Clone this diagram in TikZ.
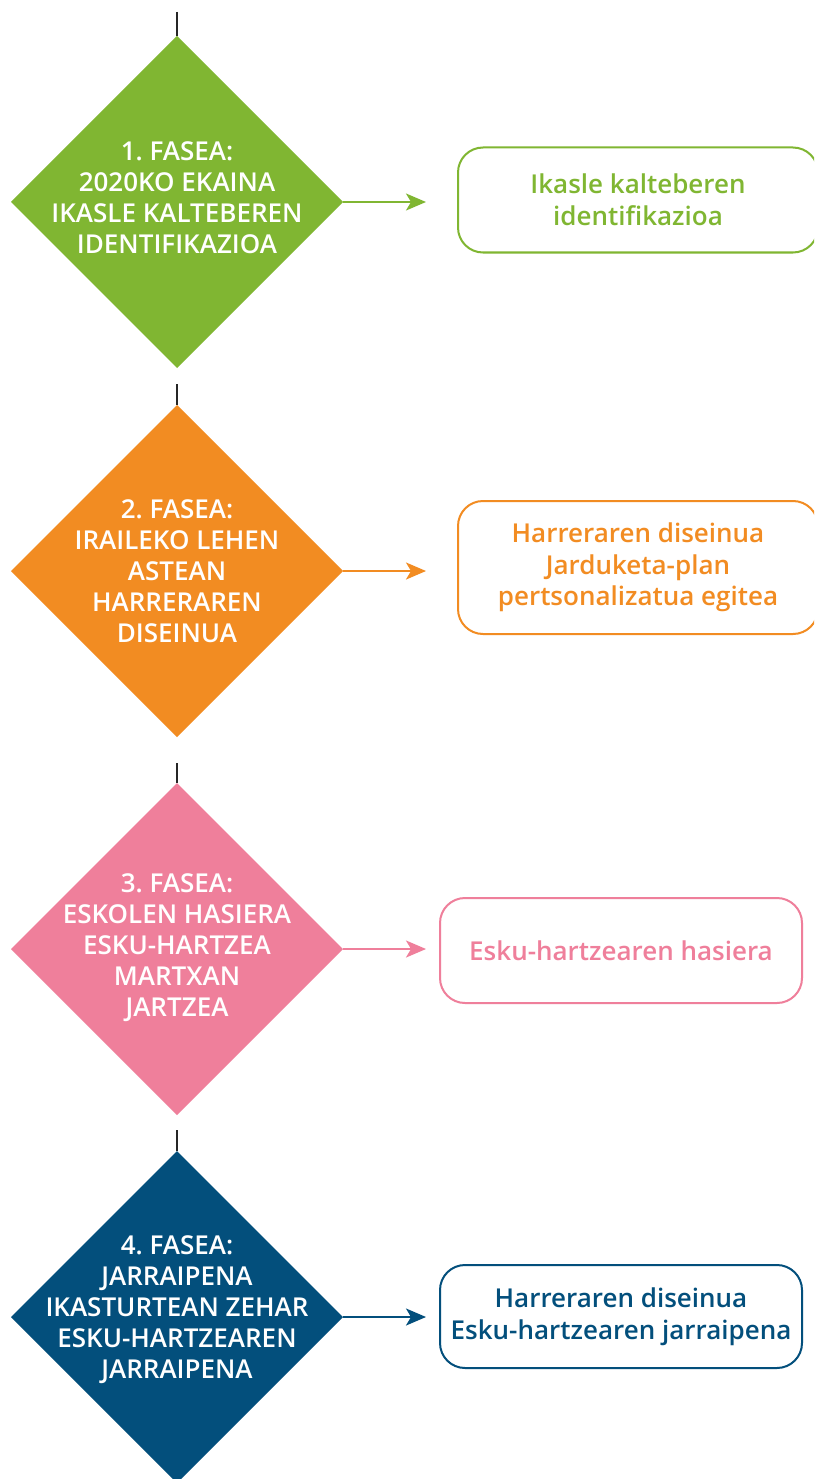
\documentclass[tikz,border=0pt]{standalone}
\usepackage{fontspec}
\setmainfont{Open Sans}[BoldFont={Open Sans Semibold}]
\usetikzlibrary{shapes.geometric,arrows.meta}
\definecolor{cgreen}{HTML}{80B632}
\definecolor{corange}{HTML}{F28C22}
\definecolor{cpink}{HTML}{EF7F9B}
\definecolor{cblue}{HTML}{034F7C}
\frenchspacing
\tikzset{
  phase/.style={diamond, aspect=1, minimum width=332pt, minimum height=332pt, inner sep=0pt, outer sep=0pt, fill=#1, draw=none},
  phasetext/.style={align=center, text=white, font=\bfseries\fontsize{26}{31}\selectfont\frenchspacing, inner sep=0pt},
  result/.style={rounded corners=25pt, draw=#1, line width=2pt, fill=white, text=#1, align=center, font=\bfseries\fontsize{26}{31.5}\selectfont, inner sep=0pt},
  topline/.style={line width=1.5pt, draw=black!85},
  arr/.style={line width=2pt, draw=#1, -{Stealth[length=20pt, width=17pt, inset=5pt]}},
}
\begin{document}
\begin{tikzpicture}[x=1pt, y=-1pt]
\useasboundingbox (0,0) rectangle (814,1479);
\clip (0,0) rectangle (814,1479);
\fill[white] (0,0) rectangle (814,1479);

% phase 1
\node[phase=cgreen] (d1) at (177,202) {};
\node[phasetext] (t1) at (177,198) {1. FASEA:\\2020KO EKAINA\\IKASLE KALTEBEREN\\IDENTIFIKAZIOA};
\coordinate (s1) at (177,12);
\draw[topline] (s1) -- (d1.north);
\node[result=cgreen, minimum width=360pt, minimum height=105pt] (b1) at (638,200) {Ikasle kalteberen\\identifikazioa};
\draw[arr=cgreen, shorten >=31pt] (d1.east) -- (d1.east -| b1.west);

% phase 2
\node[phase=corange] (d2) at (177,571) {};
\node[phasetext] (t2) at (177,571) {2. FASEA:\\IRAILEKO LEHEN\\ASTEAN\\HARRERAREN\\DISEINUA};
\coordinate (s2) at (177,384);
\draw[topline] (s2) -- (d2.north);
\node[result=corange, minimum width=360pt, minimum height=133pt] (b2) at (638,567.5) {Harreraren diseinua\\Jarduketa-plan\\pertsonalizatua egitea};
\draw[arr=corange, shorten >=31pt] (d2.east) -- (d2.east -| b2.west);

% phase 3
\node[phase=cpink] (d3) at (177,949) {};
\node[phasetext] (t3) at (177,948) {3. FASEA:\\ESKOLEN HASIERA\\ESKU-HARTZEA\\MARTXAN\\JARTZEA};
\coordinate (s3) at (177,763);
\draw[topline] (s3) -- (d3.north);
\node[result=cpink, minimum width=362pt, minimum height=105pt] (b3) at (621,950.5) {Esku-hartzearen hasiera};
\draw[arr=cpink, shorten >=13pt] (d3.east) -- (d3.east -| b3.west);

% phase 4
\node[phase=cblue] (d4) at (177,1317) {};
\node[phasetext] (t4) at (177,1310) {4. FASEA:\\JARRAIPENA\\IKASTURTEAN ZEHAR\\ESKU-HARTZEAREN\\JARRAIPENA};
\coordinate (s4) at (177,1130);
\draw[topline] (s4) -- (d4.north);
\node[result=cblue, minimum width=362pt, minimum height=103pt] (b4) at (621,1316.5) {Harreraren diseinua\\Esku-hartzearen jarraipena};
\draw[arr=cblue, shorten >=13pt] (d4.east) -- (d4.east -| b4.west);
\end{tikzpicture}
\end{document}
